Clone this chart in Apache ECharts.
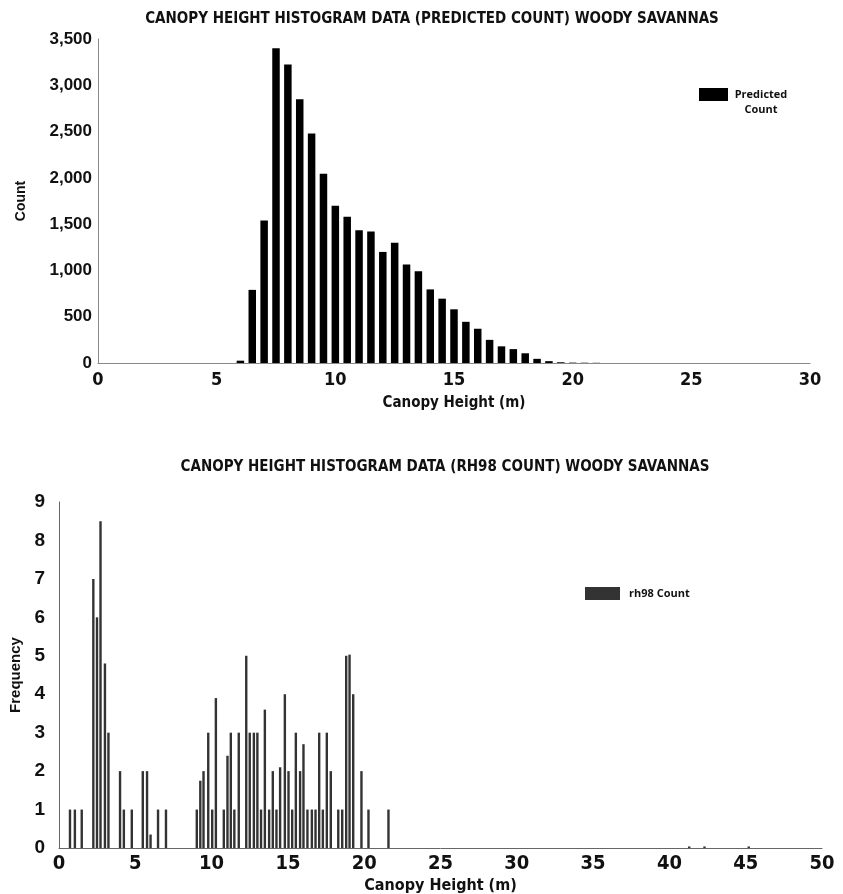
<!DOCTYPE html>
<html>
<head>
<meta charset="utf-8">
<script src="https://cdn.jsdelivr.net/npm/echarts@6/dist/echarts.min.js"></script>
<style>html,body{margin:0;padding:0;background:#fff}#c{width:843px;height:894px}</style>
</head>
<body>
<div id="c"></div>
<script>
// Top chart: predicted count per 0.5 m bin
var predBins = [6.0, 6.5, 7.0, 7.5, 8.0, 8.5, 9.0, 9.5, 10.0, 10.5, 11.0, 11.5, 12.0, 12.5, 13.0, 13.5, 14.0, 14.5, 15.0, 15.5, 16.0, 16.5, 17.0, 17.5, 18.0, 18.5, 19.0, 19.5, 20.0, 20.5, 21.0];
var predCounts = [25, 790, 1540, 3400, 3225, 2850, 2480, 2045, 1700, 1580, 1435, 1420, 1200, 1300, 1065, 990, 795, 695, 580, 445, 370, 250, 180, 150, 105, 45, 20, 8, 4, 3, 2];
var topXTicks = [0, 5, 10, 15, 20, 25, 30];
var topYTicks = [0, 500, 1000, 1500, 2000, 2500, 3000, 3500];

// Bottom chart: rh98 frequency
var rhHeights = [0.72, 1.04, 1.49, 2.25, 2.49, 2.72, 3.01, 3.24, 4.0, 4.25, 4.77, 5.49, 5.77, 6.0, 6.49, 7.01,
  9.03, 9.26, 9.47, 9.78, 10.04, 10.28, 10.8, 11.04, 11.26, 11.49, 11.78, 12.27, 12.5, 12.77, 13.0, 13.24, 13.49, 13.77,
  14.01, 14.25, 14.49, 14.8, 15.04, 15.28, 15.52, 15.8, 16.02, 16.28, 16.57, 16.81, 17.05, 17.29, 17.55, 17.81,
  18.3, 18.56, 18.82, 19.04, 19.28, 19.82, 20.28, 21.59, 41.3, 42.3, 45.2];
var rhFreq = [1, 1, 1, 7, 6, 8.5, 4.8, 3, 2, 1, 1, 2, 2, 0.35, 1, 1,
  1, 1.75, 2, 3, 1, 3.9, 1, 2.4, 3, 1, 3, 5, 3, 3, 3, 1, 3.6, 1,
  2, 1, 2.1, 4, 2, 1, 3, 2, 2.7, 1, 1, 1, 3, 1, 3, 2,
  1, 1, 5, 5.03, 4, 2, 1, 1, 0.04, 0.04, 0.04];
var botXTicks = [0, 5, 10, 15, 20, 25, 30, 35, 40, 45, 50];
var botYTicks = [0, 1, 2, 3, 4, 5, 6, 7, 8, 9];

var NARROW = '"Liberation Sans Narrow", "DejaVu Sans Condensed", sans-serif';
var ARIAL = '"Liberation Sans", Arial, sans-serif';

function pairs(xs, ys) { return xs.map(function (x, i) { return [x, ys[i]]; }); }

var chart = echarts.init(document.getElementById('c'), null, {renderer: 'canvas'});
chart.setOption({
  animation: false,
  backgroundColor: '#fff',
  title: [
    {text: 'CANOPY HEIGHT HISTOGRAM DATA (PREDICTED COUNT) WOODY SAVANNAS', left: 427, top: 7, textAlign: 'center',
     textStyle: {fontFamily: NARROW, fontWeight: 'bold', fontSize: 15, color: '#111'}},
    {text: 'CANOPY HEIGHT HISTOGRAM DATA (RH98 COUNT) WOODY SAVANNAS', left: 440, top: 455, textAlign: 'center',
     textStyle: {fontFamily: NARROW, fontWeight: 'bold', fontSize: 15, color: '#111'}}
  ],
  legend: [
    {data: ['Predicted Count'], left: 699, top: 88, padding: 0, itemWidth: 29, itemHeight: 13, icon: 'rect',
     formatter: function () { return '{a|Predicted}\n{a|Count}'; },
     textStyle: {padding: [15, 0, 0, 0], rich: {a: {width: 56, align: 'center', fontFamily: '"Open Sans", sans-serif', fontWeight: 'bold', fontSize: 11, lineHeight: 15, color: '#111'}}}},
    {data: ['rh98 Count'], left: 585, top: 587, padding: 0, itemWidth: 35, itemHeight: 13, icon: 'rect',
     textStyle: {padding: [0, 0, 0, 4], fontFamily: '"Open Sans", sans-serif', fontWeight: 'bold', fontSize: 11, color: '#111'}}
  ],
  grid: [
    {left: 98, top: 39, width: 712, height: 324, containLabel: false, outerBoundsMode: 'none'},
    {left: 59, top: 502, width: 763, height: 346, containLabel: false, outerBoundsMode: 'none'}
  ],
  xAxis: [
    {type: 'value', gridIndex: 0, min: topXTicks[0], max: topXTicks[topXTicks.length - 1], interval: 5,
     name: 'Canopy Height (m)', nameLocation: 'middle', nameGap: 33,
     nameTextStyle: {fontFamily: NARROW, fontWeight: 'bold', fontSize: 15, color: '#111'},
     axisLine: {onZero: false, lineStyle: {color: '#888', width: 1}}, axisTick: {show: false}, splitLine: {show: false},
     axisLabel: {margin: 8, fontFamily: NARROW, fontWeight: 'bold', fontSize: 18, color: '#111'}},
    {type: 'value', gridIndex: 1, min: botXTicks[0], max: botXTicks[botXTicks.length - 1], interval: 5,
     name: 'Canopy Height (m)', nameLocation: 'middle', nameGap: 30,
     nameTextStyle: {fontFamily: NARROW, fontWeight: 'bold', fontSize: 16, color: '#111'},
     axisLine: {onZero: false, lineStyle: {color: '#666', width: 1}}, axisTick: {show: false}, splitLine: {show: false},
     axisLabel: {margin: 6, fontFamily: NARROW, fontWeight: 'bold', fontSize: 20, color: '#111'}}
  ],
  yAxis: [
    {type: 'value', gridIndex: 0, min: topYTicks[0], max: topYTicks[topYTicks.length - 1], interval: 500,
     name: 'Count', nameLocation: 'middle', nameGap: 70, nameRotate: 90,
     nameTextStyle: {fontFamily: ARIAL, fontWeight: 'bold', fontSize: 14, color: '#111'},
     axisLine: {show: true, onZero: false, lineStyle: {color: '#888', width: 1}}, axisTick: {show: false}, splitLine: {show: false},
     axisLabel: {margin: 6, fontFamily: ARIAL, fontWeight: 'bold', fontSize: 17, color: '#111',
       formatter: function (v) { return v.toLocaleString('en-US'); }}},
    {type: 'value', gridIndex: 1, min: botYTicks[0], max: botYTicks[botYTicks.length - 1], interval: 1,
     name: 'Frequency', nameLocation: 'middle', nameGap: 35, nameRotate: 90,
     nameTextStyle: {fontFamily: ARIAL, fontWeight: 'bold', fontSize: 15, color: '#111'},
     axisLine: {show: true, onZero: false, lineStyle: {color: '#666', width: 1}}, axisTick: {show: false}, splitLine: {show: false},
     axisLabel: {margin: 14, fontFamily: ARIAL, fontWeight: 'bold', fontSize: 19, color: '#111'}}
  ],
  series: [
    {name: 'Predicted Count', type: 'bar', xAxisIndex: 0, yAxisIndex: 0, barWidth: 7.5,
     itemStyle: {color: '#000'}, data: pairs(predBins, predCounts)},
    {name: 'rh98 Count', type: 'bar', xAxisIndex: 1, yAxisIndex: 1, barWidth: 2.4,
     itemStyle: {color: '#333'}, data: pairs(rhHeights, rhFreq)}
  ]
});
</script>
</body>
</html>
